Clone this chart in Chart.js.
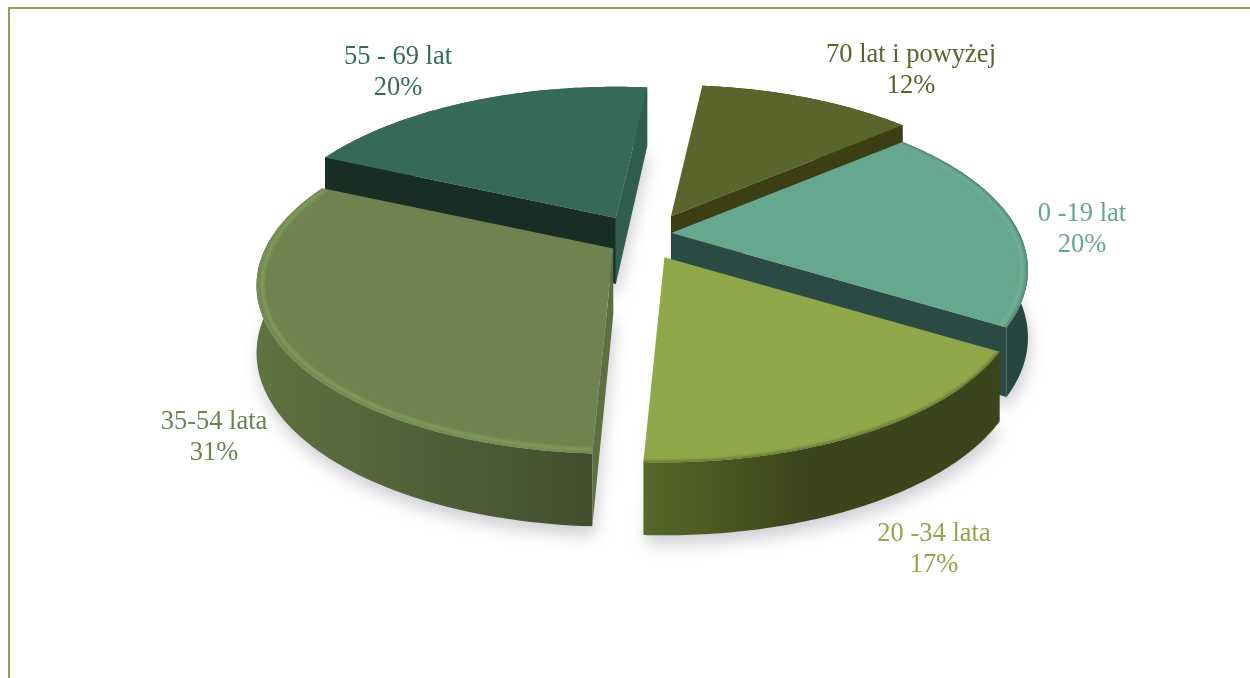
<!DOCTYPE html>
<html lang="pl">
<head>
<meta charset="utf-8">
<title>Struktura wieku</title>
<script src="https://cdn.jsdelivr.net/npm/chart.js@4"></script>
<style>
    html, body { margin: 0; padding: 0; background: #fff; overflow: hidden; }
    #frame { position: absolute; left: 8px; top: 7px; width: 1242px; height: 671px;
             border-top: 2px solid #8ea64b; border-left: 2px solid #8ea64b; box-sizing: border-box; }
    #wrap { position: absolute; left: 0; top: 0; width: 1250px; height: 678px; }
</style>
</head>
<body>
<div id="wrap"><canvas id="ageChart" width="1250" height="678"></canvas></div>
<div id="frame"></div>
<script>
// Chart data
const ageGroups = ['0 -19 lat', '20 -34 lata', '35-54 lata', '55 - 69 lat', '70 lat i powyżej'];
const shares = [20, 17, 31, 20, 12];

// Colours, one per slice
const topColors = ['#66a78f', '#90a74a', '#6e8350', '#366a56', '#59652b'];
const wallFrom = ['#2b4a43', '#576829', '#5f7240', '#2f5e4e', '#3b3f13'];
const wallTo = ['#28463f', '#3c441b', '#434e2e', '#2f5e4e', '#3b3f13'];
const startWallColors = ['#2b4a43', '#3c441b', '#5d6f3e', '#182d24', '#3b3f13'];
const endWallColors = ['#2b4a43', '#3c441b', '#5d6f3e', '#2f5e4e', '#3b3f13'];
const rimColors = ['#4f8070', '#5c6c2c', '#7a9158', null, null];
const glowColors = ['#74b29a', null, '#86a25e', null, null];

// How far each slice is pulled out of the pie (share of the radius)
const explodeX = [0.09, 0.15, 0.09, 0.14, 0.19];
const explodeY = [0.24, 0.15, 0.15, 0.13, 0.14];

// Label anchors as a share of the canvas
const labelX = [0.8656, 0.7472, 0.1712, 0.3184, 0.7288];
const labelY = [0.3392, 0.8112, 0.6457, 0.1077, 0.1046];

// The fake 3D view
const view = { cx: 640, cy: 236, rx: 348, ry: 160, persp: 0.22, depth: 66, depthSlope: 7 };

function project(slice, angle, r, down) {
    const nx = Math.cos(angle) * r;
    const ny = Math.sin(angle) * r;
    const s = 1 / (1 - view.persp * ny);
    return {
        x: slice.ax + nx * s * view.rx,
        y: slice.ay + ny * s * view.ry + (down ? view.depth + view.depthSlope * ny : 0)
    };
}

function arcPoints(slice, r, down) {
    const pts = [];
    const steps = 80;
    for (let i = 0; i <= steps; i++) {
        const a = slice.start + (slice.end - slice.start) * i / steps;
        pts.push(project(slice, a, r, down));
    }
    return pts;
}

function tracePolygon(ctx, pts) {
    ctx.beginPath();
    pts.forEach((p, i) => (i === 0 ? ctx.moveTo(p.x, p.y) : ctx.lineTo(p.x, p.y)));
    ctx.closePath();
}

function fillPolygon(ctx, pts, color) {
    tracePolygon(ctx, pts);
    ctx.fillStyle = color;
    ctx.fill();
}

function radialWall(ctx, slice, angle, color) {
    const apexTop = { x: slice.ax, y: slice.ay };
    const apexLow = { x: slice.ax, y: slice.ay + view.depth };
    fillPolygon(ctx, [apexTop, project(slice, angle, 1, false), project(slice, angle, 1, true), apexLow], color);
}

function strokeArc(ctx, slice, r, width, color, blur) {
    const pts = arcPoints(slice, r, false);
    ctx.save();
    ctx.filter = `blur(${blur}px)`;
    ctx.beginPath();
    pts.forEach((p, i) => (i === 0 ? ctx.moveTo(p.x, p.y) : ctx.lineTo(p.x, p.y)));
    ctx.lineWidth = width;
    ctx.strokeStyle = color;
    ctx.stroke();
    ctx.restore();
}

function drawShadow(ctx, slice) {
    const low = arcPoints(slice, 1, true);
    const apex = { x: slice.ax, y: slice.ay + view.depth };
    ctx.save();
    ctx.filter = 'blur(8px)';
    ctx.translate(2, 9);
    fillPolygon(ctx, [apex, ...low], 'rgba(70, 70, 90, 0.26)');
    ctx.restore();
}

function drawSlice(ctx, slice) {
    const i = slice.index;

    // outer curved wall
    const upper = arcPoints(slice, 1, false);
    const lower = arcPoints(slice, 1, true);
    const xs = upper.map(p => p.x);
    const grad = ctx.createLinearGradient(Math.min(...xs), 0, Math.max(...xs), 0);
    grad.addColorStop(0, wallFrom[i]);
    grad.addColorStop(i === 1 ? 0.45 : 1, wallTo[i]);
    grad.addColorStop(1, wallTo[i]);
    tracePolygon(ctx, [...upper, ...lower.reverse()]);
    ctx.fillStyle = grad;
    ctx.fill();

    // only the cut faces turned towards the viewer
    if (Math.cos(slice.start) < 0) radialWall(ctx, slice, slice.start, startWallColors[i]);
    if (Math.cos(slice.end) > 0) radialWall(ctx, slice, slice.end, endWallColors[i]);

    // top face
    const face = [{ x: slice.ax, y: slice.ay }, ...upper];
    fillPolygon(ctx, face, topColors[i]);
    if (rimColors[i]) {
        ctx.save();
        tracePolygon(ctx, face);
        ctx.clip();
        if (glowColors[i]) strokeArc(ctx, slice, 0.985, 3, glowColors[i], 1.5);
        strokeArc(ctx, slice, 1, 3, rimColors[i], 1.5);
        ctx.restore();
    }
}

const pie3dPlugin = {
    id: 'pie3d',
    beforeDatasetDraw(chart, args) {
        const ctx = chart.ctx;
        const slices = args.meta.data.map((arc, index) => {
            const mid = (arc.startAngle + arc.endAngle) / 2;
            return {
                index: index,
                start: arc.startAngle,
                end: arc.endAngle,
                mid: mid,
                ax: view.cx + Math.cos(mid) * explodeX[index] * view.rx,
                ay: view.cy + Math.sin(mid) * explodeY[index] * view.ry
            };
        });
        slices.forEach(s => drawShadow(ctx, s));
        slices.slice().sort((a, b) => Math.sin(a.mid) - Math.sin(b.mid)).forEach(s => drawSlice(ctx, s));
        return false;
    },
    afterDraw(chart) {
        const ctx = chart.ctx;
        ctx.save();
        ctx.font = '26.5px "Liberation Serif"';
        ctx.textAlign = 'center';
        ctx.textBaseline = 'middle';
        ageGroups.forEach((name, i) => {
            const x = labelX[i] * chart.width;
            const y = labelY[i] * chart.height;
            ctx.fillStyle = topColors[i];
            ctx.fillText(name, x, y - 15.5);
            ctx.fillText(shares[i] + '%', x, y + 15.5);
        });
        ctx.restore();
    }
};

function createChart() {
    const ctx = document.getElementById('ageChart').getContext('2d');
    new Chart(ctx, {
        type: 'pie',
        data: {
            labels: ageGroups,
            datasets: [{ data: shares, backgroundColor: topColors, borderWidth: 0 }]
        },
        options: {
            responsive: false,
            animation: false,
            rotation: 49.5,
            plugins: { legend: { display: false }, tooltip: { enabled: false } }
        },
        plugins: [pie3dPlugin]
    });
}

createChart();
</script>
</body>
</html>
